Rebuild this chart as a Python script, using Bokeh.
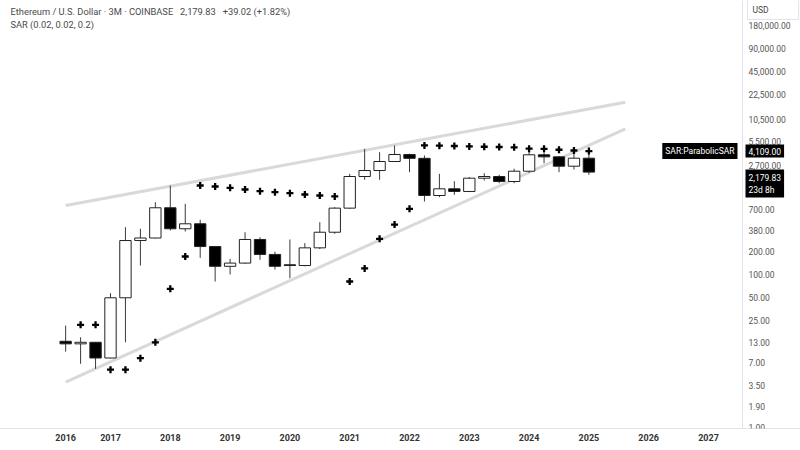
import numpy as np
from bokeh.plotting import figure
from bokeh.models import (FixedTicker, NumeralTickFormatter, CustomJSTickFormatter,
                          Label, ColumnDataSource, Range1d)
from bokeh.embed import file_html
from bokeh.resources import INLINE

# ---------------- data (quarterly ETH/USD candles) ----------------
quarters = ["2016Q2", "2016Q3", "2016Q4",
            "2017Q1", "2017Q2", "2017Q3", "2017Q4",
            "2018Q1", "2018Q2", "2018Q3", "2018Q4",
            "2019Q1", "2019Q2", "2019Q3", "2019Q4",
            "2020Q1", "2020Q2", "2020Q3", "2020Q4",
            "2021Q1", "2021Q2", "2021Q3", "2021Q4",
            "2022Q1", "2022Q2", "2022Q3", "2022Q4",
            "2023Q1", "2023Q2", "2023Q3", "2023Q4",
            "2024Q1", "2024Q2", "2024Q3", "2024Q4",
            "2025Q1"]
opens = [13.4, 12.4, 13.0, 8.1, 49.6, 278, 300, 745, 396, 460, 232, 128,
         141, 287, 183, 134, 131, 223, 357, 737, 1910, 2287, 3000, 3705,
         3300, 1078, 1318, 1217, 1815, 1910, 1643, 2240, 3670, 3450, 2605, 3313]
highs = [21.5, 15.1, 13.1, 56.9, 415, 396, 881, 1456, 839, 519, 235, 160,
         357, 307, 199, 287, 257, 483, 758, 2070, 4396, 3970, 4858, 3800,
         3594, 2070, 1660, 1880, 2110, 2010, 2410, 4090, 3970, 3500, 3785, 3850]
lows = [9.8, 6.8, 5.85, 8.0, 13.0, 131, 295, 376, 365, 165, 81, 100,
        138, 156, 116, 89.5, 128, 215, 340, 720, 1729, 1729, 2950, 2175,
        900, 1025, 1101, 1195, 1693, 1560, 1560, 2133, 2850, 2175, 2358, 2010]
closes = [12.4, 13.0, 8.1, 49.6, 278, 300, 745, 396, 460, 232, 128, 141,
          287, 183, 128, 131, 223, 357, 737, 1910, 2287, 3000, 3705, 3300,
          1078, 1318, 1217, 1815, 1910, 1643, 2240, 3670, 3450, 2605, 3313, 2179.83]
sar = [np.nan, 22, 22, 5.7, 5.7, 8.05, 13.0, 65, 172, 1456, 1414, 1359,
       1291, 1228, 1191, 1156, 1111, 1078, 1047, 81, 120, 293, 450, 722,
       4870, 4830, 4780, 4720, 4680, 4640, 4600, 4420, 4400, 4270, 4180, 4109]

year_ticks = [2016.25, 2017, 2018, 2019, 2020, 2021, 2022, 2023, 2024, 2025, 2026, 2027]
price_ticks = [1, 1.9, 3.5, 7, 13, 25, 50, 100, 200, 380, 700, 1300, 2700,
               5500, 10500, 22500, 45000, 90000, 180000]

# wedge trend lines (start / end dates and prices)
trend_x = [2016.25, 2025.61]
upper_y = [798, 17870]
lower_y = [3.91, 8030]

last_price = "2,179.83"
sar_last_value = 4109
sar_last = "4,109.00"

# ---------------- geometry helpers ----------------
PX_PER_YEAR = 59.8
PX_PER_DEC = 76.5
FRAME_W, FRAME_H = 800, 428
AXIS_PX = 742
X0 = 2017 - 110 / PX_PER_YEAR
X1 = X0 + FRAME_W / PX_PER_YEAR
Y0 = 10 ** ((427 - FRAME_H) / PX_PER_DEC)
Y1 = 10 ** (427 / PX_PER_DEC)


def dx(px):
    return X0 + px / PX_PER_YEAR


def dy(py):
    return 10 ** ((427 - py) / PX_PER_DEC)


def qpos(q):
    return int(q[:4]) + (int(q[-1]) - 1) * 0.25


x = [qpos(q) for q in quarters]
o = np.array(opens, dtype=float)
c = np.array(closes, dtype=float)
up = c >= o
src = ColumnDataSource(dict(
    x=x, high=highs, low=lows,
    top=np.maximum(o, c), bottom=np.minimum(o, c),
    fill=["white" if u else "black" for u in up],
))

FONT = "Roboto"

p = figure(width=800, height=450, y_axis_type="log",
           x_range=Range1d(X0, X1), y_range=Range1d(Y0, Y1),
           x_axis_location="below", y_axis_location="right",
           output_backend="svg", toolbar_location=None,
           min_border_left=0, min_border_top=0,
           min_border_right=0, min_border_bottom=450 - FRAME_H)
p.title.visible = False
p.outline_line_color = None
p.xgrid.visible = False
p.ygrid.visible = False
p.background_fill_color = "white"
p.border_fill_color = "white"

# trend lines
p.line(trend_x, upper_y, line_color="#d9d9d9", line_width=3)
p.line(trend_x, lower_y, line_color="#d9d9d9", line_width=3)

# candles
p.segment(x0="x", y0="low", x1="x", y1="high", source=src,
          line_color="#3a3a3a", line_width=1)
p.vbar(x="x", width=0.19, top="top", bottom="bottom", source=src,
       fill_color="fill", line_color="#222222", line_width=1)

# Parabolic SAR
p.scatter(x, sar, marker="cross", size=7, line_width=2.3, color="black")

# axes
yax = p.yaxis[0]
yax.fixed_location = dx(AXIS_PX)
yax.ticker = FixedTicker(ticks=price_ticks)
yax.formatter = NumeralTickFormatter(format="0,0.00")
yax.major_tick_line_color = None
yax.minor_tick_line_color = None
yax.major_tick_out = 0
yax.major_tick_in = 0
yax.major_label_standoff = 6
yax.axis_line_color = "#e0e3eb"
yax.major_label_text_font = FONT
yax.major_label_text_font_size = "8.5px"
yax.major_label_text_color = "#555555"

xax = p.xaxis[0]
xax.ticker = FixedTicker(ticks=year_ticks)
xax.formatter = CustomJSTickFormatter(code="return String(Math.floor(tick + 1e-6));")
xax.major_tick_line_color = None
xax.minor_tick_line_color = None
xax.major_tick_out = 0
xax.major_label_standoff = 5
xax.axis_line_color = "#e0e3eb"
xax.major_label_text_font = FONT
xax.major_label_text_font_size = "9px"
xax.major_label_text_font_style = "bold"
xax.major_label_text_color = "#333333"

# header
p.add_layout(Label(x=dx(10), y=dy(11),
                   text="Ethereum / U.S. Dollar \u00b7 3M \u00b7 COINBASE\u00a0\u00a0 2,179.83\u00a0\u00a0 +39.02 (+1.82%)",
                   text_font=FONT, text_font_size="9.3px", text_color="#4a4a4a",
                   text_baseline="middle"))
p.add_layout(Label(x=dx(10), y=dy(24), text="SAR (0.02, 0.02, 0.2)",
                   text_font=FONT, text_font_size="9.3px", text_color="#4a4a4a",
                   text_baseline="middle"))

# price tags
p.add_layout(Label(x=dx(737), y=sar_last_value, text="SAR:ParabolicSAR",
                   text_font=FONT, text_font_size="8.5px", text_color="white",
                   text_align="right", text_baseline="middle",
                   background_fill_color="black", padding=3))
p.add_layout(Label(x=dx(745), y=sar_last_value, text=sar_last,
                   text_font=FONT, text_font_size="8.5px", text_color="white",
                   text_align="left", text_baseline="middle",
                   background_fill_color="black", padding=3))
p.add_layout(Label(x=dx(745), y=dy(169), text=last_price + "\n23d 8h",
                   text_font=FONT, text_font_size="8.5px", text_color="white",
                   text_align="left", text_baseline="top",
                   background_fill_color="black", padding=3))
p.add_layout(Label(x=dx(747), y=dy(9), text="USD",
                   text_font=FONT, text_font_size="8.5px", text_color="#444444",
                   text_align="left", text_baseline="middle",
                   background_fill_color="white", border_line_color="#e0e3eb",
                   padding=dict(left=5, right=30, top=5, bottom=5)))

open("out.html", "w").write(file_html(p, INLINE))
